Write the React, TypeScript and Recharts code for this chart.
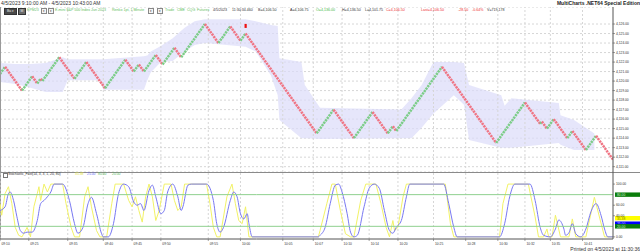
import React from 'react';
import { ComposedChart, Line, Area, XAxis, YAxis, CartesianGrid, ReferenceLine } from 'recharts';

// time axis (renko bar index -> label)
const tickBars = [0, 17, 40, 61, 78, 95, 123, 142, 167, 185, 202, 218, 235, 256, 275, 294, 310, 325, 344];
const tickLabels = ['09:10', '09:25', '09:35', '09:40', '09:45', '09:50', '09:55', '10:00', '10:05', '10:07', '10:10', '10:14', '10:20', '10:25', '10:28', '10:30', '10:32', '10:35', '10:41'];
const priceTicks = [4111, 4112, 4113, 4114, 4115, 4116, 4117, 4118, 4119, 4120, 4121, 4122, 4123, 4124, 4125, 4126];

// renko reversal points
const pivotBar = [0, 3, 13, 19, 22, 24, 25, 35, 44, 51, 62, 74, 79, 82, 85, 92, 96, 103, 107, 121, 129, 136, 142, 145, 187, 197, 209, 220, 229, 232, 234, 261, 293, 310, 319, 320, 323, 327, 335, 338, 346, 352, 362];
const pivotPrice = [4120.75, 4121.5, 4119, 4120.5, 4119.75, 4120.25, 4120, 4122.5, 4120.25, 4122, 4119.25, 4122.25, 4121, 4121.75, 4121, 4122.75, 4121.75, 4123.5, 4122.5, 4126, 4124, 4125.75, 4124.25, 4125, 4114.5, 4117, 4114, 4116.75, 4114.5, 4115.25, 4114.75, 4121.5, 4113.5, 4117.75, 4115.5, 4115.75, 4115, 4116, 4114, 4114.75, 4112.75, 4114.25, 4111.75];

// envelope band
const bandBar = [0, 9, 18, 27, 37, 40, 59, 61, 85, 87, 89, 95, 102, 109, 115, 121, 145, 151, 160, 164, 165, 178, 180, 189, 237, 243, 249, 256, 268, 274, 277, 296, 298, 302, 330, 331, 339, 351];
const bandHigh = [4121.9, 4121.8, 4121.8, 4121.9, 4122.5, 4122.3, 4122.3, 4122.3, 4122.6, 4122.7, 4123.1, 4123.7, 4124.5, 4125.6, 4126.3, 4126.5, 4126.5, 4126.3, 4125.9, 4125.8, 4122.4, 4122.0, 4119.6, 4117.2, 4117.0, 4118.2, 4119.6, 4122.0, 4122.0, 4121.9, 4119.6, 4118.5, 4117.4, 4118.2, 4117.7, 4116.4, 4115.9, 4114.5];
const bandLow = [4119.9, 4119.7, 4119.3, 4118.85, 4118.85, 4120.1, 4120.1, 4119.1, 4119.1, 4120.1, 4120.9, 4122.0, 4122.1, 4123.1, 4123.8, 4124.0, 4123.6, 4123.1, 4120.6, 4118.5, 4115.9, 4114.0, 4114.0, 4113.9, 4114.0, 4114.0, 4115.1, 4116.6, 4118.5, 4117.5, 4113.8, 4113.0, 4113.0, 4113.0, 4113.5, 4113.3, 4112.75, 4112.75];

const markBar = [145];
const markPrice = [4125.8];

// stochastic %K (yellow) and %D (blue)
const kBar = [0, 1, 3, 5, 7, 9, 11, 13, 16, 18, 20, 22, 23, 24, 26, 28, 30, 37, 39, 42, 44, 47, 50, 52, 54, 57, 59, 63, 66, 68, 73, 76, 78, 80, 82, 84, 86, 88, 90, 92, 94, 97, 101, 103, 105, 107, 109, 122, 124, 126, 128, 130, 134, 137, 139, 141, 143, 145, 147, 188, 189, 193, 196, 198, 201, 204, 207, 209, 213, 216, 222, 225, 228, 230, 232, 233, 235, 238, 240, 263, 266, 268, 295, 297, 300, 312, 316, 318, 321, 323, 324, 326, 328, 331, 336, 338, 340, 346, 351, 357, 362];
const kVal = [63, 41, 82, 95, 63, 18, 3, 0, 18, 0, 57, 82, 95, 69, 100, 85, 100, 100, 63, 18, 0, 0, 76, 95, 57, 12, 0, 0, 63, 100, 100, 69, 57, 76, 50, 28, 76, 100, 76, 31, 50, 100, 100, 69, 50, 57, 100, 100, 63, 18, 0, 0, 76, 100, 63, 31, 25, 57, 0, 0, 12, 63, 100, 100, 50, 6, 0, 0, 69, 100, 100, 63, 18, 0, 31, 12, 18, 76, 100, 100, 25, 0, 0, 63, 100, 100, 38, 0, 0, 15, 0, 0, 41, 0, 0, 34, 0, 0, 75, 0, 0];
const dBar = [0, 3, 5, 6, 8, 10, 12, 14, 16, 19, 22, 24, 26, 28, 30, 32, 37, 41, 44, 46, 49, 52, 54, 57, 60, 61, 64, 67, 70, 73, 76, 79, 81, 83, 85, 88, 90, 92, 95, 97, 99, 102, 105, 107, 108, 111, 113, 122, 126, 128, 130, 132, 136, 138, 140, 142, 144, 146, 147, 149, 188, 189, 192, 195, 198, 200, 202, 205, 207, 209, 211, 215, 218, 221, 224, 227, 230, 232, 234, 237, 240, 242, 262, 265, 268, 270, 295, 298, 301, 304, 313, 316, 319, 321, 325, 328, 330, 333, 334, 336, 338, 340, 343, 346, 349, 352, 355, 357, 359, 362];
const dVal = [50, 57, 82, 85, 69, 38, 12, 7, 9, 9, 31, 63, 69, 76, 85, 100, 100, 69, 25, 7, 18, 63, 75, 44, 6, 0, 0, 25, 82, 100, 95, 66, 60, 63, 50, 88, 98, 76, 44, 50, 85, 100, 76, 50, 57, 98, 100, 100, 69, 25, 9, 18, 69, 85, 76, 44, 34, 44, 25, 0, 0, 3, 18, 63, 98, 100, 85, 44, 9, 0, 3, 57, 92, 100, 92, 50, 12, 7, 18, 31, 76, 100, 100, 63, 18, 0, 0, 25, 76, 100, 100, 69, 18, 3, 0, 15, 32, 15, 3, 8, 25, 6, 0, 15, 48, 63, 40, 15, 0, 0];

const stochTicks = [0, 40, 60, 100];
const boxValues = [80, 35.38, 25, 20];
const boxText = ['80.00', '35.38', '25.00', '20.00'];
const boxFill = ['#0b7d0b', '#ffff00', '#0000ff', '#0b7d0b'];
const boxInk = ['#d6f2d6', '#7a7a00', '#d6d6ff', '#d6f2d6'];

const FONT = '"Liberation Sans", Arial, sans-serif';
const GRID = '#d6d6d6';
const UP = '#7ccd88';
const DOWN = '#f07584';
const BARS: [number, number] = [0, 362];

const bandData = bandBar.map((bar, i) => ({ bar, range: [bandLow[i], bandHigh[i]] }));
const legs = pivotBar.slice(1).map((bar, i) => ({
  up: pivotPrice[i + 1] > pivotPrice[i],
  pts: [{ bar: pivotBar[i], price: pivotPrice[i] }, { bar, price: pivotPrice[i + 1] }],
}));
const markData = markBar.map((bar, i) => ({ bar, price: markPrice[i] }));
const kData = kBar.map((bar, i) => ({ bar, v: kVal[i] }));
const dData = dBar.map((bar, i) => ({ bar, v: dVal[i] }));

const fmtPrice = (v: number) => v.toLocaleString('en-US', { minimumFractionDigits: 2, maximumFractionDigits: 2 });

function T({ x, y, s = 3.6, c = '#333', b = false, r, children }: any) {
  return (
    <span style={{ position: 'absolute', left: r === undefined ? x : undefined, right: r, top: y, fontSize: s, color: c, fontWeight: b ? 'bold' : 'normal', lineHeight: 1, whiteSpace: 'nowrap', fontFamily: FONT }}>
      {children}
    </span>
  );
}

function Box({ x, y, w, h, bg, bd = '#888', children, c = '#fff' }: any) {
  return (
    <div style={{ position: 'absolute', left: x, top: y, width: w, height: h, background: bg, border: `0.5px solid ${bd}`, fontSize: 3.4, lineHeight: `${h}px`, color: c, fontFamily: FONT, textAlign: 'center', overflow: 'hidden' }}>
      {children}
    </div>
  );
}

function TimeTick({ x, y, payload }: any) {
  const label = tickLabels[tickBars.indexOf(payload.value)];
  return (
    <g>
      <line x1={x} x2={x} y1={y} y2={y + 2} stroke="#666" strokeWidth={0.6} />
      <text x={x + 1.5} y={y + 5.6} fontSize={3.3} fill="#333" fontFamily={FONT}>{label}</text>
    </g>
  );
}

const boxLabel = (i: number) => (props: any) => {
  const vb = props.viewBox;
  const x = vb.x + vb.width + 2;
  return (
    <g>
      <rect x={x} y={vb.y - 2.2} width={25} height={4.4} fill={boxFill[i]} />
      <text x={x + 2} y={vb.y + 1.3} fontSize={3.3} fill={boxInk[i]} fontFamily={FONT}>{boxText[i]}</text>
    </g>
  );
};

function MarkDot({ cx, cy }: any) {
  return <rect x={cx - 1} y={cy - 2} width={2.2} height={4} fill="#ee1111" />;
}

export default function App() {
  return (
    <div style={{ position: 'fixed', left: 0, top: 0, width: 640, height: 252, background: '#fff', overflow: 'hidden', fontFamily: FONT }}>
      <T x={1} y={0.6} s={5}>4/5/2023 9:10:00 AM - 4/5/2023 10:43:00 AM</T>
      <T r={0} y={0.6} s={5} b c="#222">MultiCharts .NET64 Special Edition</T>

      <div style={{ position: 'absolute', left: 0, top: 7 }}>
        <ComposedChart width={640} height={165} data={bandData} margin={{ top: 0, right: 0, bottom: 0, left: 0 }}>
          <XAxis dataKey="bar" type="number" domain={BARS} hide allowDataOverflow />
          <YAxis
            orientation="right"
            width={27}
            domain={[4110.44, 4127.79]}
            ticks={priceTicks}
            interval={0}
            allowDataOverflow
            tickFormatter={fmtPrice}
            tickSize={2}
            tickMargin={1}
            tick={{ fontSize: 3.3, fill: '#333', fontFamily: FONT }}
            axisLine={{ stroke: '#555' }}
            tickLine={{ stroke: '#555', strokeWidth: 0.6 }}
          />
          <CartesianGrid vertical={false} stroke={GRID} strokeDasharray="2 2" />
          {tickBars.map((b) => (
            <ReferenceLine key={b} x={b} stroke={GRID} strokeDasharray="2 2" />
          ))}
          <Area dataKey="range" type="linear" stroke="none" fill="#dcdcfa" fillOpacity={0.7} isAnimationActive={false} />
          {legs.map((leg, i) => (
            <Line
              key={i}
              data={leg.pts}
              dataKey="price"
              type="linear"
              stroke={leg.up ? UP : DOWN}
              strokeWidth={2.5}
              strokeDasharray="2.2 0.8"
              dot={false}
              isAnimationActive={false}
            />
          ))}
          <Line data={markData} dataKey="price" stroke="none" dot={<MarkDot />} isAnimationActive={false} />
        </ComposedChart>
      </div>

      {/* toolbar */}
      <Box x={4} y={8} w={11} h={4.6} bg="#4a4a4a" bd="#333" c="#eee">Ba ▾</Box>
      <Box x={18} y={8} w={6} h={4.6} bg="#6a6a6a" bd="#333" c="#eee">M</Box>
      <T x={27} y={8.8} c="#6cbf6c">EPM23</T>
      <Box x={41} y={8.3} w={4} h={4} bg="#f4f4f4" c="#333">▾</Box>
      <Box x={48} y={8.3} w={4} h={4} bg="#f4f4f4" c="#333">▾</Box>
      <T x={55} y={8.8} c="#62c062">E-mini S&amp;P 500 Index Jun 2023</T>
      <T x={112} y={8.8} c="#62c062">Renko 1pt, 1 Minute</T>
      <Box x={148} y={8.3} w={4} h={4} bg="#f4f4f4" c="#333">▾</Box>
      <Box x={157} y={8.3} w={4} h={4} bg="#f4f4f4" c="#333">▾</Box>
      <T x={165} y={8.8} c="#62c062">Trade</T>
      <T x={177} y={8.8} c="#62c062">CME</T>
      <T x={187} y={8.8} c="#62c062">CQG</T>
      <T x={197} y={8.8} c="#62c062">Futures</T>
      <T x={213} y={8.8}>4/5/2023</T>
      <T x={232} y={8.8}>11:30:34.460</T>
      <T x={258} y={8.8}>B=4,106.50</T>
      <T x={290} y={8.8}>A=4,106.75</T>
      <T x={316} y={8.8} c="#3cb83c">O=4,136.00</T>
      <T x={342} y={8.8}>H=4,136.50</T>
      <T x={365} y={8.8}>L=4,101.75</T>
      <T x={386} y={8.8} c="#ee3030">C=4,106.50</T>
      <T x={421} y={8.8} c="#ee3030">Last=4,106.50</T>
      <T x={458} y={8.8} c="#ee3030">-28.50</T>
      <T x={472} y={8.8} c="#ee3030">-0.64%</T>
      <T x={487} y={8.8}>V=719,178</T>

      <div style={{ position: 'absolute', left: 0, top: 171.5, width: 640, height: 1, background: '#8a8a8a' }} />
      <div style={{ position: 'absolute', left: 0, top: 7, width: 1, height: 232, background: '#9a9a9a' }} />

      <div style={{ position: 'absolute', left: 0, top: 172 }}>
        <ComposedChart width={640} height={76} margin={{ top: 0, right: 0, bottom: 0, left: 0 }}>
          <XAxis
            dataKey="bar"
            type="number"
            domain={BARS}
            ticks={tickBars}
            interval={0}
            allowDataOverflow
            height={9}
            tickSize={0}
            tickMargin={0}
            tick={<TimeTick />}
            axisLine={{ stroke: '#555' }}
          />
          <YAxis
            orientation="right"
            width={27}
            domain={[-4, 122.9]}
            ticks={stochTicks}
            interval={0}
            allowDataOverflow
            tickFormatter={(v: number) => v.toFixed(2)}
            tickSize={2}
            tickMargin={1}
            tick={{ fontSize: 3.3, fill: '#333', fontFamily: FONT }}
            axisLine={{ stroke: '#555' }}
            tickLine={{ stroke: '#555', strokeWidth: 0.6 }}
          />
          {tickBars.map((b) => (
            <ReferenceLine key={b} x={b} stroke={GRID} strokeDasharray="2 2" />
          ))}
          <Line data={kData} dataKey="v" type="linear" stroke="#f2f266" strokeWidth={1} dot={false} isAnimationActive={false} />
          <Line data={dData} dataKey="v" type="monotone" stroke="#7878f2" strokeWidth={1} dot={false} isAnimationActive={false} />
          {boxValues.map((v, i) => (
            <ReferenceLine
              key={'b' + i}
              y={v}
              stroke={i === 0 || i === 3 ? '#8fd08f' : 'transparent'}
              strokeWidth={1}
              label={boxLabel(i)}
            />
          ))}
        </ComposedChart>
      </div>

      <T x={3} y={173.2} s={3.4} c="#333">
        <span style={{ display: 'inline-block', width: 3, height: 3, border: '0.5px solid #777', marginRight: 2, verticalAlign: 'top' }} />
      </T>
      <T x={8} y={173.2} s={3.4}>Stochastic_Fast</T>
      <T x={32} y={173.2} s={3.4}>(14, 3, 3, 1, 20, 80)</T>
      <T x={75} y={173.2} s={3.4} c="#e2e23a">35.38</T>
      <T x={87} y={173.2} s={3.4} c="#6a6af5">25.00</T>
      <T x={98} y={173.2} s={3.4} c="#5cb85c">80.00</T>
      <T x={112} y={173.2} s={3.4} c="#5cb85c">20.00</T>

      <T r={0} y={246.5} s={5} c="#333">Printed on 4/5/2023 at 11:30:36</T>
    </div>
  );
}
